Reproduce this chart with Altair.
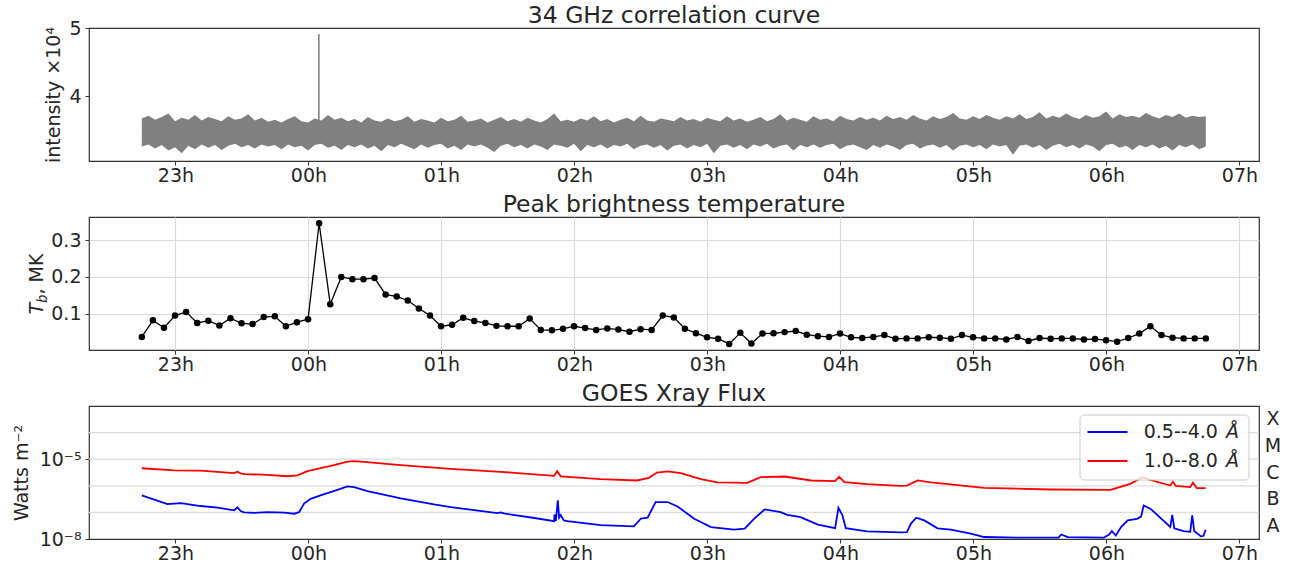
import altair as alt
import numpy as np
import pandas as pd

FONT = "DejaVu Sans"
TXT = "#262626"
GRID = "#dcdcdc"
W, H = 1170, 133

# ---------------- data: hours relative to 00h ----------------
hour_ticks = [-1, 0, 1, 2, 3, 4, 5, 6, 7]

# Panel 1: 34 GHz correlation curve (envelope of the noisy curve, x10^4), 3-min samples
band_start = -1.253
band_step = 0.05
band_hi = [3.68, 3.72, 3.66, 3.70, 3.75, 3.64, 3.69, 3.66, 3.73, 3.65,
           3.70, 3.67, 3.64, 3.71, 3.66, 3.68, 3.74, 3.65, 3.69, 3.63,
           3.66, 3.62, 3.67, 3.71, 3.64, 3.62, 3.68, 3.65, 3.73, 3.66,
           3.69, 3.64, 3.67, 3.62, 3.70, 3.65, 3.63, 3.68, 3.64, 3.66,
           3.71, 3.63, 3.67, 3.65, 3.62, 3.69, 3.64, 3.66, 3.72, 3.63,
           3.65, 3.68, 3.62, 3.66, 3.70, 3.64, 3.67, 3.63, 3.69, 3.65,
           3.62, 3.67, 3.75, 3.64, 3.66, 3.63, 3.68, 3.65, 3.71, 3.64,
           3.67, 3.62, 3.66, 3.69, 3.64, 3.72, 3.65, 3.63, 3.68, 3.66,
           3.64, 3.70, 3.65, 3.67, 3.63, 3.69, 3.66, 3.64, 3.71, 3.65,
           3.68, 3.63, 3.66, 3.70, 3.64, 3.67, 3.74, 3.65, 3.69, 3.66,
           3.63, 3.71, 3.66, 3.68, 3.64, 3.72, 3.67, 3.65, 3.70, 3.66,
           3.69, 3.65, 3.72, 3.67, 3.70, 3.66, 3.73, 3.68, 3.65, 3.71,
           3.67, 3.70, 3.76, 3.68, 3.66, 3.71, 3.67, 3.73, 3.69, 3.66,
           3.71, 3.68, 3.74, 3.67, 3.70, 3.77, 3.68, 3.72, 3.69, 3.75,
           3.70, 3.67, 3.73, 3.69, 3.71, 3.78, 3.68, 3.74, 3.70, 3.72,
           3.69, 3.76, 3.71, 3.68, 3.73, 3.70, 3.75, 3.69, 3.72, 3.70, 3.71]
band_lo = [3.27, 3.30, 3.24, 3.29, 3.21, 3.26, 3.17, 3.28, 3.23, 3.30,
           3.25, 3.29, 3.22, 3.28, 3.31, 3.26, 3.29, 3.24, 3.30, 3.27,
           3.29, 3.23, 3.30, 3.26, 3.28, 3.21, 3.29, 3.31, 3.25, 3.28,
           3.22, 3.29, 3.26, 3.30, 3.24, 3.28, 3.20, 3.29, 3.26, 3.31,
           3.27, 3.23, 3.30, 3.25, 3.29, 3.31, 3.24, 3.28, 3.22, 3.30,
           3.27, 3.30, 3.25, 3.19, 3.28, 3.31, 3.26, 3.29, 3.24, 3.30,
           3.27, 3.22, 3.30, 3.28, 3.25, 3.31, 3.20, 3.29, 3.26, 3.30,
           3.24, 3.29, 3.27, 3.31, 3.23, 3.28, 3.30, 3.25, 3.29, 3.21,
           3.28, 3.30, 3.24, 3.29, 3.26, 3.31, 3.17, 3.28, 3.30, 3.25,
           3.29, 3.23, 3.30, 3.27, 3.31, 3.24, 3.28, 3.30, 3.21, 3.29,
           3.26, 3.30, 3.25, 3.29, 3.31, 3.23, 3.28, 3.30, 3.26, 3.22,
           3.29, 3.25, 3.30, 3.27, 3.22, 3.29, 3.31, 3.24, 3.28, 3.30,
           3.25, 3.29, 3.21, 3.28, 3.30, 3.26, 3.29, 3.23, 3.30, 3.27,
           3.29, 3.15, 3.28, 3.30, 3.25, 3.29, 3.22, 3.28, 3.31, 3.26,
           3.29, 3.24, 3.30, 3.27, 3.20, 3.29, 3.31, 3.25, 3.28, 3.22,
           3.29, 3.26, 3.30, 3.24, 3.28, 3.21, 3.29, 3.26, 3.30, 3.23, 3.27]
spike_time = [0.078]
spike_base = [3.60]
spike_top = [4.913]

# Panel 2: peak brightness temperature (MK), every 5 min
tb_start = -1.253
tb_values = [0.037, 0.082, 0.062, 0.095, 0.105, 0.075, 0.081, 0.068, 0.088, 0.074,
             0.072, 0.091, 0.093, 0.066, 0.077, 0.085, 0.346, 0.126, 0.200, 0.194,
             0.194, 0.197, 0.152, 0.147, 0.136, 0.114, 0.095, 0.066, 0.070, 0.089,
             0.080, 0.075, 0.067, 0.066, 0.066, 0.087, 0.056, 0.055, 0.059, 0.066,
             0.061, 0.056, 0.060, 0.057, 0.051, 0.058, 0.056, 0.095, 0.090, 0.059,
             0.047, 0.036, 0.032, 0.018, 0.048, 0.019, 0.046, 0.047, 0.050, 0.053,
             0.043, 0.039, 0.037, 0.046, 0.036, 0.034, 0.037, 0.042, 0.032, 0.033,
             0.033, 0.036, 0.035, 0.032, 0.042, 0.036, 0.033, 0.033, 0.030, 0.037,
             0.026, 0.034, 0.032, 0.033, 0.033, 0.030, 0.031, 0.028, 0.024, 0.034,
             0.046, 0.066, 0.042, 0.035, 0.033, 0.033, 0.033]

# Panel 3: GOES X-ray flux, log10(W m^-2)
long_t = [-1.253, -1.01, -0.81, -0.56, -0.534, -0.51, -0.48, -0.31, -0.158, -0.083,
          -0.008, 0.092, 0.193, 0.293, 0.343, 0.44, 0.694, 0.944, 1.07, 1.446,
          1.847, 1.87, 1.897, 2.197, 2.47, 2.56, 2.62, 2.70, 2.80, 2.95,
          3.075, 3.30, 3.40, 3.58, 3.78, 3.96, 3.99, 4.03, 4.20, 4.45,
          4.50, 4.58, 4.68, 5.08, 5.58, 6.03, 6.08, 6.18, 6.27, 6.33,
          6.48, 6.50, 6.52, 6.63, 6.65, 6.68, 6.746]
long_log = [-5.34, -5.42, -5.43, -5.52, -5.47, -5.53, -5.56, -5.59, -5.64, -5.61,
            -5.45, -5.34, -5.22, -5.09, -5.075, -5.11, -5.22, -5.32, -5.36, -5.475,
            -5.625, -5.45, -5.65, -5.75, -5.80, -5.70, -5.50, -5.46, -5.525, -5.75,
            -5.875, -5.89, -5.675, -5.65, -5.80, -5.825, -5.66, -5.86, -5.94, -6.00,
            -5.99, -5.80, -5.875, -6.075, -6.14, -6.15, -6.075, -5.925, -5.675, -5.775,
            -5.99, -5.84, -6.00, -6.05, -5.88, -6.09, -6.09]
short_t = [-1.253, -1.06, -0.96, -0.81, -0.684, -0.559, -0.534, -0.51, -0.484, -0.409,
           -0.308, -0.183, -0.108, -0.07, -0.033, 0.017, 0.09, 0.19, 0.293, 0.343,
           0.444, 0.694, 0.944, 1.07, 1.42, 1.446, 1.47, 1.70, 1.847, 1.85,
           1.86, 1.875, 1.885, 1.897, 1.92, 1.947, 2.197, 2.447, 2.50, 2.55,
           2.61, 2.70, 2.775, 2.90, 3.026, 3.20, 3.28, 3.35, 3.43, 3.55,
           3.60, 3.70, 3.83, 3.96, 3.985, 4.015, 4.04, 4.20, 4.45, 4.50,
           4.53, 4.57, 4.63, 4.73, 4.83, 4.98, 5.08, 5.33, 5.64, 5.66,
           5.71, 5.98, 6.02, 6.04, 6.07, 6.11, 6.16, 6.23, 6.26, 6.28,
           6.33, 6.48, 6.495, 6.51, 6.58, 6.63, 6.645, 6.66, 6.71, 6.73, 6.746]
short_log = [-6.36, -6.69, -6.65, -6.76, -6.82, -6.92, -6.81, -6.95, -7.00, -7.02,
             -6.99, -7.01, -7.05, -6.99, -6.67, -6.49, -6.36, -6.20, -6.02, -6.05,
             -6.20, -6.47, -6.70, -6.80, -7.025, -7.00, -7.04, -7.21, -7.33, -7.08,
             -7.33, -6.55, -7.20, -7.10, -7.30, -7.33, -7.475, -7.525, -7.23, -7.20,
             -6.61, -6.61, -6.775, -7.24, -7.55, -7.65, -7.61, -7.24, -6.89, -6.99,
             -7.09, -7.175, -7.46, -7.59, -6.83, -7.11, -7.59, -7.71, -7.75, -7.74,
             -7.42, -7.20, -7.30, -7.60, -7.65, -7.80, -7.925, -7.95, -7.95, -7.83,
             -7.93, -7.95, -7.83, -7.70, -7.87, -7.55, -7.30, -7.24, -7.16, -6.74,
             -6.86, -7.55, -7.09, -7.60, -7.70, -7.73, -7.11, -7.70, -7.90, -7.88, -7.65]
band_names = ["0.5--4.0 ", "1.0--8.0 "]
class_letters = ["A", "B", "C", "M", "X"]
class_pos = [3.16e-8, 3.16e-7, 3.16e-6, 3.16e-5, 3.16e-4]
grid_levels = [1e-7, 1e-6, 1e-5, 1e-4]

# ---------------- helpers ----------------
XDOM = [-1.650, 7.147]


def xenc(grid=False):
    return alt.X("t:Q",
                 scale=alt.Scale(domain=XDOM, nice=False, zero=False),
                 axis=alt.Axis(values=hour_ticks, title=None, grid=grid,
                               labelExpr="datum.value < 0 ? '23h' : '0' + datum.value + 'h'"))


def ttl(text, off):
    return alt.Title(text, font=FONT, fontSize=23.5, color=TXT, fontWeight="normal",
                     anchor="middle", frame="group", offset=off)


one = pd.DataFrame({"a": [0]})


def label(text, x, y, size=19, style="normal", angle=0, align="left", baseline="alphabetic"):
    return alt.Chart(one).mark_text(text=text, font=FONT, fontSize=size, fontStyle=style,
                                    color=TXT, angle=angle, align=align,
                                    baseline=baseline).encode(x=alt.value(x), y=alt.value(y))


# ---------------- panel 1 ----------------
band_df = pd.DataFrame({"t": [band_start + band_step * k for k in range(len(band_hi))],
                        "hi": band_hi, "lo": band_lo})
spike_df = pd.DataFrame({"t": spike_time, "base": spike_base, "top": spike_top})
y1s = alt.Scale(domain=[3.058, 5.0], nice=False, zero=False)
y1a = alt.Axis(values=[4, 5], title="intensity ×10⁴", grid=False,
               titleX=-30, titleY=H / 2, titleAlign="center", titleBaseline="alphabetic")
area = alt.Chart(band_df).mark_area(color="#808080", interpolate="linear").encode(
    x=xenc(), y=alt.Y("lo:Q", scale=y1s, axis=y1a), y2="hi:Q")
spike = alt.Chart(spike_df).mark_rule(color="#808080", strokeWidth=1.6).encode(
    x=xenc(), y=alt.Y("base:Q", scale=y1s, axis=y1a), y2="top:Q")
p1 = alt.layer(area, spike).properties(width=W, height=H,
                                       title=ttl("34 GHz correlation curve", -8))

# ---------------- panel 2 ----------------
tb_df = pd.DataFrame({"t": [tb_start + k / 12 for k in range(len(tb_values))], "tb": tb_values})
y2s = alt.Scale(domain=[0.0014, 0.363], nice=False, zero=False)
y2a = alt.Axis(values=[0.1, 0.2, 0.3], format=".1f", title=None, grid=True)
tb_line = alt.Chart(tb_df).mark_line(
    color="black", strokeWidth=1.3,
    point=alt.OverlayMarkDef(filled=True, size=42, color="black", opacity=1)).encode(
    x=xenc(True), y=alt.Y("tb:Q", scale=y2s, axis=y2a))
p2 = alt.layer(tb_line,
               label("T", -45.6, 97.3, style="italic", angle=270),
               label("b", -41.8, 85.9, size=13.3, style="italic", angle=270),
               label(", MK", -45.6, 77.5, angle=270)).properties(
    width=W, height=H, title=ttl("Peak brightness temperature", 1))

# ---------------- panel 3 ----------------
goes_df = pd.concat([
    pd.DataFrame({"t": short_t, "flux": 10 ** np.array(short_log), "band": band_names[0]}),
    pd.DataFrame({"t": long_t, "flux": 10 ** np.array(long_log), "band": band_names[1]}),
], ignore_index=True)
grid_df = pd.DataFrame({"level": grid_levels})
class_df = pd.DataFrame({"letter": class_letters, "pos": class_pos})
y3s = alt.Scale(type="log", domain=[1e-8, 1e-3], nice=False)
y3a = alt.Axis(values=[1e-8, 1e-5], grid=False, title="Watts m⁻²",
               labelExpr="datum.value < 1e-6 ? '10⁻⁸' : '10⁻⁵'",
               titleX=-61.6, titleY=H / 2, titleAlign="center", titleBaseline="alphabetic")
cscale = alt.Scale(domain=band_names, range=["#0000ff", "#ff0000"])
gridr = alt.Chart(grid_df).mark_rule(color=GRID, strokeWidth=1.2).encode(
    y=alt.Y("level:Q", scale=y3s, axis=y3a))
lines = alt.Chart(goes_df).mark_line(strokeWidth=1.8, clip=True).encode(
    x=xenc(),
    y=alt.Y("flux:Q", scale=y3s, axis=y3a),
    color=alt.Color("band:N", scale=cscale, legend=None))
classes = alt.Chart(class_df).mark_text(font=FONT, fontSize=19, color=TXT, align="center",
                                        baseline="middle").encode(
    x=alt.value(W + 14), y=alt.Y("pos:Q", scale=y3s, axis=y3a), text="letter:N")

# legend box (drawn by hand so its rows match the reference spacing)
leg_box = alt.Chart(one).mark_rect(fill="white", fillOpacity=0.8, stroke="#cccccc",
                                   strokeWidth=1, cornerRadius=4).encode(
    x=alt.value(991), x2=alt.value(1160), y=alt.value(9), y2=alt.value(74))
leg_layers = [leg_box]
for i, name in enumerate(band_names):
    yy = 26 + 29 * i
    row = pd.DataFrame({"band": [name]})
    leg_layers.append(alt.Chart(row).mark_rule(strokeWidth=2).encode(
        x=alt.value(998.5), x2=alt.value(1038.5), y=alt.value(yy),
        color=alt.Color("band:N", scale=cscale, legend=None)))
    leg_layers.append(label(name, 1054.7, yy, baseline="middle"))
    leg_layers.append(label("Å", 1137, yy, style="italic", baseline="middle"))

p3 = alt.layer(gridr, lines, classes, *leg_layers).properties(
    width=W, height=H, title=ttl("GOES Xray Flux", 1))

chart = alt.vconcat(p1, p2, p3, spacing=56, bounds="flush").properties(
    padding={"left": 11, "top": 2, "right": 5, "bottom": 5}
).configure_view(
    stroke="#333333", strokeWidth=1.2
).configure_axis(
    labelFont=FONT, labelFontSize=19, labelColor=TXT,
    titleFont=FONT, titleFontSize=19, titleFontWeight="normal", titleColor=TXT,
    tickColor="#333333", tickSize=4, tickWidth=1, domain=False,
    gridColor=GRID, gridWidth=1.2
).configure_axisX(labelPadding=1).configure_axisY(labelPadding=4)

chart.save("out.html", embed_options={"renderer": "svg", "actions": False})
